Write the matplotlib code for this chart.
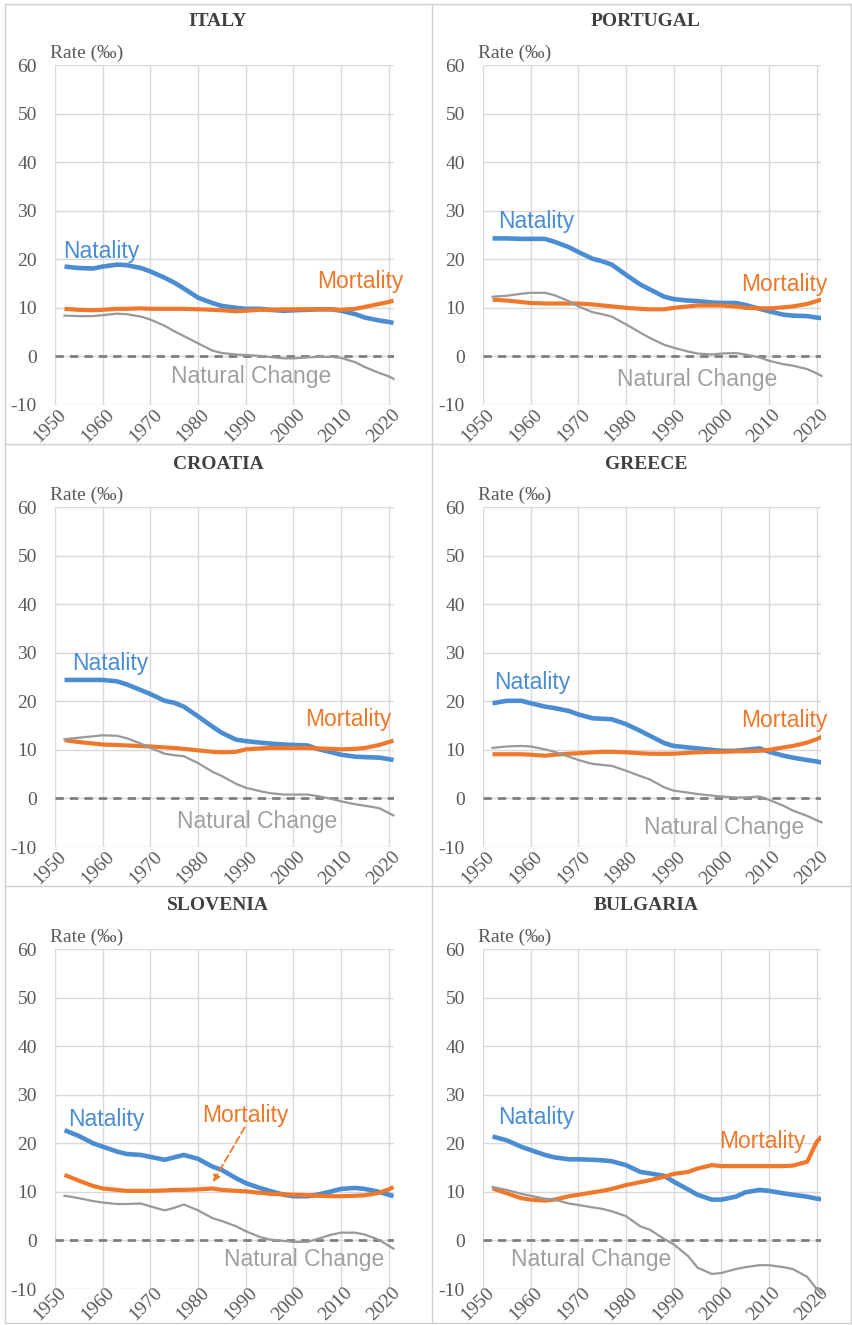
import matplotlib
matplotlib.use('Agg')
import matplotlib.pyplot as plt
from matplotlib.lines import Line2D
from matplotlib.transforms import ScaledTranslation

plt.rcParams['axes.unicode_minus'] = False

# years (same grid for every series)
years = [1952, 1955, 1958, 1960, 1963, 1965, 1968, 1970, 1973, 1975, 1977, 1980, 1983, 1985,
         1988, 1990, 1993, 1995, 1998, 2000, 2003, 2005, 2008, 2010, 2013, 2015, 2018, 2020, 2021]

italy_natality = [18.5, 18.2, 18.1, 18.5, 18.9, 18.8, 18.2, 17.5, 16.2, 15.2, 14.0, 12.1, 11.0, 10.4,
                  10.0, 9.8, 9.8, 9.6, 9.4, 9.5, 9.6, 9.7, 9.7, 9.4, 8.7, 8.0, 7.4, 7.1, 6.9]
italy_mortality = [9.8, 9.6, 9.5, 9.6, 9.8, 9.8, 9.9, 9.8, 9.8, 9.8, 9.8, 9.7, 9.6, 9.5,
                   9.3, 9.4, 9.6, 9.6, 9.7, 9.7, 9.7, 9.7, 9.7, 9.6, 9.8, 10.2, 10.8, 11.2, 11.5]
italy_change = [8.4, 8.3, 8.3, 8.5, 8.8, 8.7, 8.2, 7.6, 6.3, 5.2, 4.2, 2.7, 1.2, 0.7,
                0.4, 0.3, 0.1, -0.1, -0.4, -0.4, -0.2, -0.1, -0.1, -0.3, -1.2, -2.2, -3.4, -4.1, -4.6]

portugal_natality = [24.3, 24.3, 24.2, 24.2, 24.2, 23.6, 22.5, 21.5, 20.1, 19.6, 18.9, 16.8, 14.8, 13.8,
                     12.3, 11.8, 11.5, 11.4, 11.1, 11.0, 11.0, 10.6, 9.8, 9.3, 8.6, 8.4, 8.3, 8.0, 7.9]
portugal_mortality = [11.7, 11.5, 11.2, 11.0, 10.9, 10.9, 10.9, 10.9, 10.7, 10.5, 10.3, 10.0, 9.8, 9.7,
                      9.7, 10.0, 10.3, 10.5, 10.5, 10.5, 10.3, 10.0, 9.9, 9.9, 10.1, 10.3, 10.8, 11.4, 11.7]
portugal_change = [12.3, 12.5, 12.9, 13.1, 13.1, 12.6, 11.4, 10.3, 9.1, 8.7, 8.2, 6.6, 4.9, 3.8,
                   2.4, 1.8, 1.0, 0.6, 0.4, 0.6, 0.7, 0.4, -0.2, -0.9, -1.6, -1.9, -2.6, -3.5, -4.0]

croatia_natality = [24.4, 24.4, 24.4, 24.4, 24.1, 23.5, 22.3, 21.5, 20.1, 19.7, 18.9, 16.9, 14.8, 13.5,
                    12.1, 11.8, 11.5, 11.3, 11.1, 11.0, 10.9, 10.2, 9.5, 9.0, 8.6, 8.5, 8.4, 8.1, 7.9]
croatia_mortality = [12.0, 11.6, 11.3, 11.1, 11.0, 10.9, 10.8, 10.7, 10.5, 10.4, 10.2, 9.9, 9.6, 9.5,
                     9.6, 10.1, 10.3, 10.4, 10.4, 10.4, 10.4, 10.3, 10.2, 10.1, 10.2, 10.4, 11.0, 11.6, 11.9]
croatia_change = [12.2, 12.5, 12.8, 13.0, 12.9, 12.4, 11.3, 10.4, 9.2, 8.9, 8.7, 7.3, 5.5, 4.6,
                  3.0, 2.2, 1.5, 1.1, 0.8, 0.8, 0.8, 0.5, -0.1, -0.6, -1.2, -1.5, -2.0, -3.0, -3.5]

greece_natality = [19.6, 20.1, 20.1, 19.6, 18.9, 18.6, 18.0, 17.3, 16.5, 16.4, 16.3, 15.3, 13.9, 12.9,
                   11.4, 10.8, 10.5, 10.3, 10.0, 9.8, 9.8, 10.0, 10.3, 9.6, 8.8, 8.4, 7.9, 7.6, 7.4]
greece_mortality = [9.1, 9.1, 9.1, 9.0, 8.8, 9.0, 9.2, 9.3, 9.5, 9.6, 9.6, 9.5, 9.3, 9.2,
                    9.2, 9.2, 9.4, 9.5, 9.6, 9.6, 9.7, 9.7, 9.8, 10.0, 10.5, 10.8, 11.5, 12.2, 12.7]
greece_change = [10.4, 10.7, 10.8, 10.7, 10.1, 9.6, 8.6, 7.9, 7.1, 6.9, 6.7, 5.7, 4.6, 3.9,
                 2.3, 1.6, 1.2, 0.9, 0.6, 0.4, 0.2, 0.2, 0.4, -0.3, -1.5, -2.5, -3.6, -4.5, -4.9]

slovenia_natality = [22.7, 21.5, 20.0, 19.3, 18.3, 17.8, 17.6, 17.2, 16.6, 17.1, 17.6, 16.8, 15.2, 14.5,
                     12.8, 11.8, 10.8, 10.2, 9.4, 9.1, 9.1, 9.4, 10.1, 10.6, 10.8, 10.6, 10.0, 9.4, 9.1]
slovenia_mortality = [13.5, 12.3, 11.2, 10.7, 10.4, 10.2, 10.2, 10.2, 10.3, 10.4, 10.4, 10.5, 10.7, 10.4,
                      10.2, 10.1, 9.8, 9.6, 9.5, 9.4, 9.3, 9.2, 9.1, 9.1, 9.2, 9.3, 9.8, 10.5, 11.0]
slovenia_change = [9.2, 8.7, 8.1, 7.8, 7.5, 7.5, 7.6, 7.0, 6.2, 6.7, 7.4, 6.2, 4.6, 4.0,
                   2.9, 1.9, 0.7, 0.2, -0.1, -0.3, -0.3, 0.3, 1.2, 1.6, 1.6, 1.2, 0.1, -1.1, -1.7]

bulgaria_natality = [21.4, 20.6, 19.3, 18.6, 17.6, 17.1, 16.7, 16.7, 16.6, 16.5, 16.3, 15.5, 14.1, 13.8,
                     13.3, 12.1, 10.5, 9.4, 8.4, 8.4, 9.0, 9.9, 10.4, 10.2, 9.7, 9.4, 9.0, 8.6, 8.5]
bulgaria_mortality = [10.7, 9.7, 8.7, 8.4, 8.2, 8.4, 9.1, 9.4, 9.9, 10.2, 10.6, 11.4, 12.0, 12.4,
                      13.1, 13.7, 14.1, 14.8, 15.5, 15.3, 15.3, 15.3, 15.3, 15.3, 15.3, 15.4, 16.2, 20.3, 21.4]
bulgaria_change = [11.0, 10.4, 9.6, 9.2, 8.6, 8.4, 7.6, 7.3, 6.8, 6.5, 6.0, 5.0, 2.9, 2.2,
                   0.3, -0.8, -3.2, -5.6, -6.9, -6.7, -5.9, -5.5, -5.1, -5.1, -5.5, -5.9, -7.5, -10.0, -11.0]

countries = ['ITALY', 'PORTUGAL', 'CROATIA', 'GREECE', 'SLOVENIA', 'BULGARIA']
x_ticks = [1950, 1960, 1970, 1980, 1990, 2000, 2010, 2020]
y_ticks = [-10, 0, 10, 20, 30, 40, 50, 60]

W, H = 853, 1325
BLUE = '#4A8DD2'
ORANGE = '#F0782A'
GRAY = '#999999'
GRID = '#D9D9D9'
TXT = '#595959'
serif = ['Liberation Serif', 'DejaVu Serif']
sans = ['Liberation Sans', 'DejaVu Sans']


def fx(x):
    return x / W


def fy(y):
    return 1 - y / H


# natality label (left, centre), mortality label (left, centre), natural change label (centre)
panels = [
    (italy_natality, italy_mortality, italy_change, (1951.7, 21.6), (2004.9, 15.4), (1991.2, -4.1)),
    (portugal_natality, portugal_mortality, portugal_change, (1953.1, 27.8), (2004.1, 14.8), (1995.0, -4.7)),
    (croatia_natality, croatia_mortality, croatia_change, (1953.6, 27.8), (2002.4, 16.3), (1992.3, -4.7)),
    (greece_natality, greece_mortality, greece_change, (1952.3, 23.9), (2004.1, 16.0), (2000.6, -6.0)),
    (slovenia_natality, slovenia_mortality, slovenia_change, (1952.7, 24.9), (1980.8, 25.7), (2002.2, -3.9)),
    (bulgaria_natality, bulgaria_mortality, bulgaria_change, (1953.1, 25.3), (1999.5, 20.4), (1972.6, -3.9)),
]

fig = plt.figure(figsize=(W / 100, H / 100), dpi=100)

for i, (nat, mort, chg, pos_n, pos_m, pos_c) in enumerate(panels):
    col, row = i % 2, i // 2
    cx, ry = col * 428, row * 442
    left, right, top, bottom = cx + 55, cx + 393.5, ry + 65, ry + 405
    ax = fig.add_axes([fx(left), fy(bottom), (right - left) / W, (bottom - top) / H])
    ax.set_xlim(1950, 2021)
    ax.set_ylim(-10, 60)
    for s in ax.spines.values():
        s.set_visible(False)
    ax.set_xticks(x_ticks)
    ax.set_yticks(y_ticks)
    ax.grid(True, color=GRID, lw=1.0)
    ax.set_axisbelow(True)
    ax.tick_params(axis='both', length=0, labelsize=14, labelcolor=TXT)
    ax.tick_params(axis='y', pad=13)
    # bottom row sits on the picture edge, keep its years just inside
    ax.tick_params(axis='x', pad=5 if row < 2 else 1)
    ax.set_xticklabels([str(t) for t in x_ticks], rotation=45, ha='right', va='center',
                       rotation_mode='anchor')
    for lab in ax.get_xticklabels():
        lab.set_fontfamily(serif)
        lab.set_transform(lab.get_transform() + ScaledTranslation(0.09, 0, fig.dpi_scale_trans))
    for lab in ax.get_yticklabels():
        lab.set_fontfamily(serif)

    ax.axhline(0, color='#7F7F7F', lw=2.0, dashes=(3.0, 2.2), zorder=1.5)
    ax.plot(years, nat, color=BLUE, lw=3.3, solid_capstyle='butt', zorder=3)
    ax.plot(years, mort, color=ORANGE, lw=3.0, solid_capstyle='butt', zorder=4)
    ax.plot(years, chg, color=GRAY, lw=1.6, zorder=5, clip_on=False)

    ax.text(pos_n[0], pos_n[1], 'Natality', color=BLUE, fontsize=16.5, family=sans,
            ha='left', va='center', zorder=6)
    ax.text(pos_m[0], pos_m[1], 'Mortality', color=ORANGE, fontsize=16.5, family=sans,
            ha='left', va='center', zorder=6)
    ax.text(pos_c[0], pos_c[1], 'Natural Change', color='#A0A0A0', fontsize=16.5, family=sans,
            ha='center', va='center', zorder=6)

    if countries[i] == 'SLOVENIA':
        ax.annotate('', xy=(1983.1, 12.0), xytext=(1989.8, 23.3),
                    arrowprops=dict(arrowstyle='-|>', color=ORANGE, lw=1.3, linestyle=(0, (4, 2)),
                                    mutation_scale=10, shrinkA=0, shrinkB=0), zorder=6)

    fig.text(fx(cx + 218), fy(ry + 22), countries[i], ha='center', va='center', fontsize=14,
             fontweight='bold', family=serif, color='#404040')
    fig.text(fx(cx + 50), fy(ry + 53), 'Rate (‰)', ha='left', va='center', fontsize=14,
             family=serif, color=TXT)

# panel frames
border = '#D0D0D0'
for xs, ys in [((5, 851), (4, 4)), ((5, 851), (1323, 1323)), ((5, 5), (4, 1323)),
               ((851, 851), (4, 1323)), ((432, 432), (4, 1323)),
               ((5, 851), (444, 444)), ((5, 851), (886, 886))]:
    fig.add_artist(Line2D([fx(xs[0]), fx(xs[1])], [fy(ys[0]), fy(ys[1])], color=border, lw=1.0))

fig.savefig('out.png', dpi=100)
